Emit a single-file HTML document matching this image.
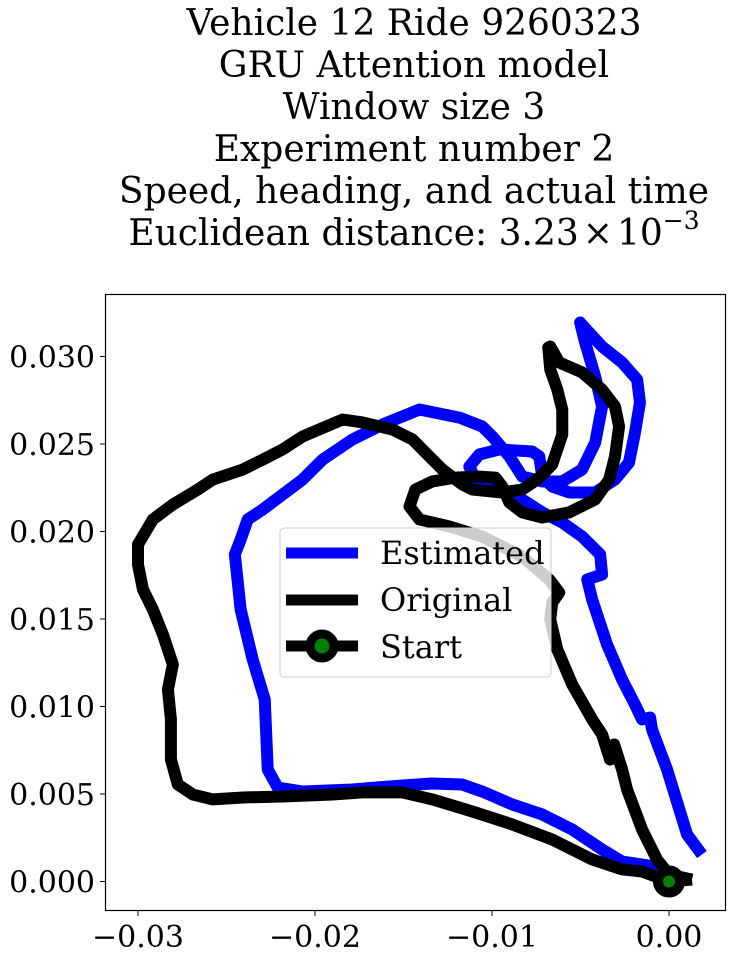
<!DOCTYPE html>
<html><head><meta charset="utf-8"><style>
body{margin:0;background:#fff;width:732px;height:957px;overflow:hidden}
svg text{font-family:"DejaVu Serif","Liberation Serif",serif;fill:#000}
</style></head><body>
<svg width="732" height="957">
<g font-size="36" text-anchor="middle">
<text x="414" y="35">Vehicle 12 Ride 9260323</text>
<text x="414" y="77">GRU Attention model</text>
<text x="414" y="119">Window size 3</text>
<text x="414" y="161">Experiment number 2</text>
<text x="414" y="203">Speed, heading, and actual time</text>
<text x="414" y="245">Euclidean distance: 3.23<tspan dx="4">×</tspan><tspan dx="4">10</tspan><tspan dy="-16" font-size="25">−3</tspan></text>
</g>
<g id="plot"></g>
<rect x="105.5" y="294.5" width="620" height="616" fill="none" stroke="#000" stroke-width="1.2"/>
<g id="ticks"></g>
<g>
<rect x="280" y="528" width="271" height="149" rx="4" fill="#fff" fill-opacity="0.8" stroke="#ccc" stroke-width="1"/>
<line x1="286" y1="553" x2="358" y2="553" stroke="#0000ff" stroke-width="11"/>
<text x="380" y="564" font-size="32">Estimated</text>
<line x1="286" y1="600" x2="358" y2="600" stroke="#000" stroke-width="11"/>
<text x="380" y="611" font-size="32">Original</text>
<line x1="286" y1="646" x2="358" y2="646" stroke="#000" stroke-width="11"/>
<circle cx="322" cy="646" r="12" fill="#008000" stroke="#000" stroke-width="9"/>
<text x="380" y="658" font-size="32">Start</text>
</g>
</svg>
<script>
// values in units of 1e-3
const estX=[1.86,1.02,-0.11,-0.96,-1.07,-1.52,-1.92,-2.65,-3.50,-4.34,-4.62,-3.78,-3.89,-4.91,-6.03,-7.16,-8.29,-9.81,-10.94,-11.28,-10.72,-9.59,-7.73,-7.33,-7.16,-6.60,-5.64,-4.17,-3.05,-2.26,-1.92,-1.64,-1.80,-2.65,-3.78,-4.51,-5.02,-4.74,-4.17,-3.78,-4.17,-4.91,-6.03,-7.16,-8.29,-9.02,-9.98,-10.55,-11.84,-14.10,-16.19,-17.88,-19.57,-20.70,-21.83,-22.95,-23.80,-24.20,-24.53,-24.20,-23.52,-22.84,-22.67,-22.11,-20.70,-17.88,-15.06,-13.37,-11.68,-10.55,-8.85,-7.16,-5.47,-3.78,-2.65,-1.52,-0.39];
const estY=[1.54,2.69,6.40,8.69,9.37,9.26,10.11,11.54,13.54,16.11,17.26,17.54,18.69,19.71,20.51,21.09,21.83,22.51,22.97,23.71,24.40,24.69,24.57,24.29,23.14,22.57,22.23,22.23,22.97,23.94,25.66,27.37,28.68,29.66,30.57,31.37,31.94,30.80,28.86,27.14,25.08,23.54,22.86,22.86,23.14,24.29,25.43,26.00,26.51,26.97,26.11,25.26,24.11,22.97,22.11,21.26,20.69,19.54,18.69,15.54,12.69,10.40,6.40,5.37,5.14,5.26,5.49,5.60,5.54,5.14,4.40,3.83,2.97,1.83,1.14,0.97,0.80];
const origX=[1.30,0,-1.52,-2.65,-4.34,-6.60,-8.85,-11.11,-13.37,-15.06,-17.31,-19.01,-21.83,-24.08,-25.77,-26.90,-27.75,-28.14,-28.14,-28.31,-28.03,-28.59,-29.16,-29.72,-30.00,-30.00,-29.16,-28.03,-26.62,-25.77,-24.08,-22.95,-21.83,-20.70,-18.44,-17.31,-15.62,-14.49,-13.65,-12.80,-11.68,-11.11,-9.42,-8.29,-7.44,-6.60,-6.03,-6.03,-6.31,-6.71,-6.82,-6.71,-6.20,-4.91,-3.78,-3.05,-2.82,-3.05,-3.38,-4.17,-5.64,-7.16,-8.29,-9.02,-9.42,-9.81,-10.72,-12.07,-13.37,-14.33,-14.66,-14.10,-12.41,-10.55,-8.29,-6.77,-6.20,-6.60,-6.71,-6.31,-5.47,-4.34,-3.78,-3.33,-3.10,-2.65,-2.37,-1.52,-0.68,0,1.30];
const origY=[0.11,0,0.57,0.69,1.26,2.40,3.26,4.00,4.69,5.09,5.09,4.97,4.86,4.80,4.69,4.97,5.54,6.97,9.26,10.97,12.40,14.11,15.54,16.69,18.11,19.26,20.69,21.54,22.40,22.97,23.54,24.11,24.69,25.43,26.40,26.23,25.83,25.26,24.40,23.54,22.69,22.40,22.23,22.40,22.97,23.83,25.54,26.97,28.11,29.26,30.51,30.57,29.66,29.09,28.11,27.14,26.00,24.29,22.97,21.83,21.09,20.80,21.09,21.66,22.57,23.08,23.14,23.08,22.86,22.40,21.43,20.69,20.29,19.71,18.57,17.26,16.51,15.94,14.97,13.26,11.26,9.26,8.40,6.97,7.83,6.40,5.26,2.97,1.26,0.40,0.11];
const startPt=[0,0];
const xTicks=[-0.03,-0.02,-0.01,0.00];
const xTickLabels=["−0.03","−0.02","−0.01","0.00"];
const yTicks=[0,0.005,0.010,0.015,0.020,0.025,0.030];
const yTickLabels=["0.000","0.005","0.010","0.015","0.020","0.025","0.030"];

const NS="http://www.w3.org/2000/svg";
function sx(v){return 669+v*17700;}
function sy(v){return 881.5-v*17500;}
function pts(xs,ys){return xs.map((x,i)=>sx(x/1000)+","+sy(ys[i]/1000)).join(" ");}
const plot=document.getElementById("plot");
function line(xs,ys,color,name){
 const p=document.createElementNS(NS,"polyline");
 p.setAttribute("points",pts(xs,ys));
 p.setAttribute("fill","none");p.setAttribute("stroke",color);
 p.setAttribute("stroke-width","12");p.setAttribute("stroke-linejoin","round");
 
 
 plot.appendChild(p);
}
line(estX,estY,"#0000ff","estimated-line");
line(origX,origY,"#000000","original-line");
const c=document.createElementNS(NS,"circle");
c.setAttribute("cx",sx(startPt[0]));c.setAttribute("cy",sy(startPt[1]));
c.setAttribute("r","11");c.setAttribute("fill","#008000");
c.setAttribute("stroke","#000");c.setAttribute("stroke-width","10");


plot.appendChild(c);
const tg=document.getElementById("ticks");
xTicks.forEach((t,i)=>{
 const x=sx(t);
 const l=document.createElementNS(NS,"line");
 l.setAttribute("x1",x);l.setAttribute("x2",x);l.setAttribute("y1",910.5);l.setAttribute("y2",916);
 l.setAttribute("stroke","#000");
 
 
 tg.appendChild(l);
 const tx=document.createElementNS(NS,"text");
 tx.setAttribute("x",x);tx.setAttribute("y",947);tx.setAttribute("font-size","30");tx.setAttribute("text-anchor","middle");
 tx.textContent=xTickLabels[i];
 
 
 tg.appendChild(tx);
});
yTicks.forEach((t,i)=>{
 const y=sy(t);
 const l=document.createElementNS(NS,"line");
 l.setAttribute("x1",100);l.setAttribute("x2",105.5);l.setAttribute("y1",y);l.setAttribute("y2",y);
 l.setAttribute("stroke","#000");
 
 
 tg.appendChild(l);
 const tx=document.createElementNS(NS,"text");
 tx.setAttribute("x",95);tx.setAttribute("y",y+11);tx.setAttribute("font-size","30");tx.setAttribute("text-anchor","end");
 tx.textContent=yTickLabels[i];
 
 
 tg.appendChild(tx);
});
</script>
</body></html>
